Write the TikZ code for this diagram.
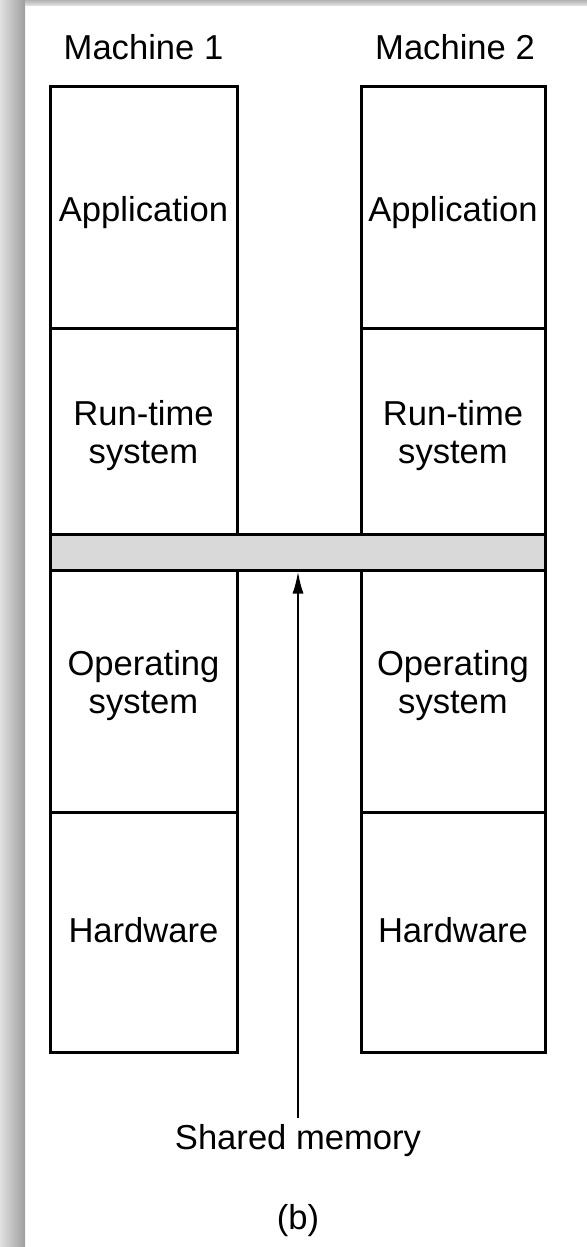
\documentclass[tikz,border=0pt]{standalone}
\usepackage{fontspec}
\setmainfont{Liberation Sans}
\usetikzlibrary{arrows.meta}
\begin{document}
\begin{tikzpicture}[x=0.5pt,y=-0.5pt,
  cell/.style={draw=black,line width=1.5pt,rectangle,inner sep=0pt},
  lbl/.style={inner sep=0pt,align=center,font=\fontsize{17.3}{19}\selectfont},
  bar/.style={draw=black,line width=1.5pt,fill=black!15,rectangle,inner sep=0pt}]
\useasboundingbox (0,0) rectangle (587,1247);
\fill[white] (0,0) rectangle (587,1247);
% page shadow
\shade[left color=black!12,right color=black!38] (0,0) rectangle (25,1247);
\shade[top color=black!30,bottom color=black!10] (25,0) rectangle (587,6);
% headings
\node[lbl] (m1) at (143.5,47) {Machine 1};
\node[lbl] (m2) at (455,47) {Machine 2};
% machine 1
\node[cell,minimum width=93.5pt,minimum height=120.5pt] (app1) at (143.5,207.5) {};
\node[cell,minimum width=93.5pt,minimum height=103pt] (rt1) at (143.5,431) {};
\node[cell,minimum width=93.5pt,minimum height=121pt] (os1) at (143.5,691) {};
\node[cell,minimum width=93.5pt,minimum height=120pt] (hw1) at (143.5,932) {};
% machine 2
\node[cell,minimum width=92pt,minimum height=120.5pt] (app2) at (453,207.5) {};
\node[cell,minimum width=92pt,minimum height=103pt] (rt2) at (453,431) {};
\node[cell,minimum width=92pt,minimum height=121pt] (os2) at (453,691) {};
\node[cell,minimum width=92pt,minimum height=120pt] (hw2) at (453,932) {};
% cell texts
\foreach \m in {1,2}{
  \node[lbl] (app\m t) at ([yshift=-2.5pt]app\m.center) {Application};
  \node[lbl] (rt\m t) at ([yshift=-2.5pt]rt\m.center) {Run-time\\system};
  \node[lbl] (os\m t) at ([yshift=2.5pt]os\m.center) {Operating\\system};
  \node[lbl] (hw\m t) at ([yshift=1pt]hw\m.center) {Hardware};
}
% shared memory bar
\node[bar,minimum width=247.5pt,minimum height=18pt] (shm) at (297.5,552) {};
% label and arrow
\node[lbl] (smlabel) at (298,1141) {Shared memory};
\coordinate (arrstart) at (298,1118);
\draw[line width=1pt,-{Latex[length=11pt,width=5.5pt]}] (arrstart) -- (arrstart |- shm.south);
\node[lbl] (cap) at (298,1221) {(b)};
\end{tikzpicture}
\end{document}
